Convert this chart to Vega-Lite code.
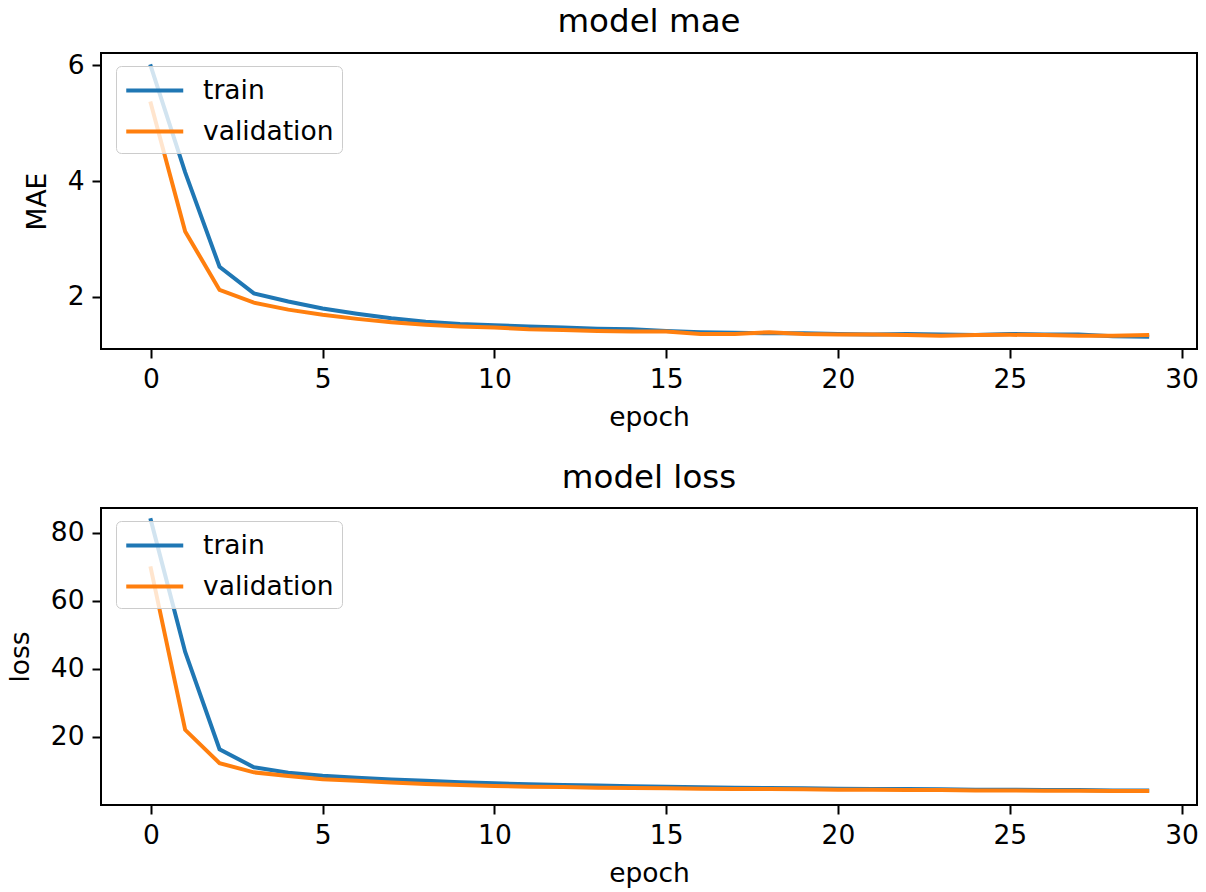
{
  "$schema": "https://vega.github.io/schema/vega-lite/v6.json",
  "autosize": {"type": "none"},
  "padding": {"left": 101, "top": 53, "right": 1105, "bottom": 839},
  "background": "white",
  "bounds": "flush",
  "spacing": 159,
  "datasets": {
    "mae": [
      {"epoch": 0, "series": "train", "value": 5.98},
      {"epoch": 1, "series": "train", "value": 4.15},
      {"epoch": 2, "series": "train", "value": 2.52},
      {"epoch": 3, "series": "train", "value": 2.06},
      {"epoch": 4, "series": "train", "value": 1.92},
      {"epoch": 5, "series": "train", "value": 1.8},
      {"epoch": 6, "series": "train", "value": 1.71},
      {"epoch": 7, "series": "train", "value": 1.63},
      {"epoch": 8, "series": "train", "value": 1.57},
      {"epoch": 9, "series": "train", "value": 1.53},
      {"epoch": 10, "series": "train", "value": 1.51},
      {"epoch": 11, "series": "train", "value": 1.49},
      {"epoch": 12, "series": "train", "value": 1.47},
      {"epoch": 13, "series": "train", "value": 1.45},
      {"epoch": 14, "series": "train", "value": 1.44},
      {"epoch": 15, "series": "train", "value": 1.41},
      {"epoch": 16, "series": "train", "value": 1.39},
      {"epoch": 17, "series": "train", "value": 1.38},
      {"epoch": 18, "series": "train", "value": 1.37},
      {"epoch": 19, "series": "train", "value": 1.37},
      {"epoch": 20, "series": "train", "value": 1.36},
      {"epoch": 21, "series": "train", "value": 1.35},
      {"epoch": 22, "series": "train", "value": 1.36},
      {"epoch": 23, "series": "train", "value": 1.35},
      {"epoch": 24, "series": "train", "value": 1.34},
      {"epoch": 25, "series": "train", "value": 1.36},
      {"epoch": 26, "series": "train", "value": 1.35},
      {"epoch": 27, "series": "train", "value": 1.35},
      {"epoch": 28, "series": "train", "value": 1.32},
      {"epoch": 29, "series": "train", "value": 1.31},
      {"epoch": 0, "series": "validation", "value": 5.34},
      {"epoch": 1, "series": "validation", "value": 3.13},
      {"epoch": 2, "series": "validation", "value": 2.12},
      {"epoch": 3, "series": "validation", "value": 1.9},
      {"epoch": 4, "series": "validation", "value": 1.78},
      {"epoch": 5, "series": "validation", "value": 1.69},
      {"epoch": 6, "series": "validation", "value": 1.62},
      {"epoch": 7, "series": "validation", "value": 1.56},
      {"epoch": 8, "series": "validation", "value": 1.52},
      {"epoch": 9, "series": "validation", "value": 1.49},
      {"epoch": 10, "series": "validation", "value": 1.47},
      {"epoch": 11, "series": "validation", "value": 1.44},
      {"epoch": 12, "series": "validation", "value": 1.43},
      {"epoch": 13, "series": "validation", "value": 1.41},
      {"epoch": 14, "series": "validation", "value": 1.4},
      {"epoch": 15, "series": "validation", "value": 1.4},
      {"epoch": 16, "series": "validation", "value": 1.36},
      {"epoch": 17, "series": "validation", "value": 1.36},
      {"epoch": 18, "series": "validation", "value": 1.39},
      {"epoch": 19, "series": "validation", "value": 1.36},
      {"epoch": 20, "series": "validation", "value": 1.35},
      {"epoch": 21, "series": "validation", "value": 1.35},
      {"epoch": 22, "series": "validation", "value": 1.34},
      {"epoch": 23, "series": "validation", "value": 1.33},
      {"epoch": 24, "series": "validation", "value": 1.34},
      {"epoch": 25, "series": "validation", "value": 1.345},
      {"epoch": 26, "series": "validation", "value": 1.34},
      {"epoch": 27, "series": "validation", "value": 1.33},
      {"epoch": 28, "series": "validation", "value": 1.33},
      {"epoch": 29, "series": "validation", "value": 1.34}
    ],
    "loss": [
      {"epoch": 0, "series": "train", "value": 83.8},
      {"epoch": 1, "series": "train", "value": 45.0},
      {"epoch": 2, "series": "train", "value": 16.4},
      {"epoch": 3, "series": "train", "value": 11.1},
      {"epoch": 4, "series": "train", "value": 9.5},
      {"epoch": 5, "series": "train", "value": 8.6},
      {"epoch": 6, "series": "train", "value": 8.0},
      {"epoch": 7, "series": "train", "value": 7.5},
      {"epoch": 8, "series": "train", "value": 7.1},
      {"epoch": 9, "series": "train", "value": 6.7},
      {"epoch": 10, "series": "train", "value": 6.4},
      {"epoch": 11, "series": "train", "value": 6.1},
      {"epoch": 12, "series": "train", "value": 5.9},
      {"epoch": 13, "series": "train", "value": 5.7},
      {"epoch": 14, "series": "train", "value": 5.5},
      {"epoch": 15, "series": "train", "value": 5.4},
      {"epoch": 16, "series": "train", "value": 5.2},
      {"epoch": 17, "series": "train", "value": 5.1},
      {"epoch": 18, "series": "train", "value": 5.0},
      {"epoch": 19, "series": "train", "value": 4.9},
      {"epoch": 20, "series": "train", "value": 4.8},
      {"epoch": 21, "series": "train", "value": 4.7},
      {"epoch": 22, "series": "train", "value": 4.7},
      {"epoch": 23, "series": "train", "value": 4.6},
      {"epoch": 24, "series": "train", "value": 4.5},
      {"epoch": 25, "series": "train", "value": 4.5},
      {"epoch": 26, "series": "train", "value": 4.4},
      {"epoch": 27, "series": "train", "value": 4.4},
      {"epoch": 28, "series": "train", "value": 4.3},
      {"epoch": 29, "series": "train", "value": 4.3},
      {"epoch": 0, "series": "validation", "value": 69.6},
      {"epoch": 1, "series": "validation", "value": 22.1},
      {"epoch": 2, "series": "validation", "value": 12.3},
      {"epoch": 3, "series": "validation", "value": 9.6},
      {"epoch": 4, "series": "validation", "value": 8.5},
      {"epoch": 5, "series": "validation", "value": 7.6},
      {"epoch": 6, "series": "validation", "value": 7.1},
      {"epoch": 7, "series": "validation", "value": 6.6},
      {"epoch": 8, "series": "validation", "value": 6.2},
      {"epoch": 9, "series": "validation", "value": 5.9},
      {"epoch": 10, "series": "validation", "value": 5.6},
      {"epoch": 11, "series": "validation", "value": 5.4},
      {"epoch": 12, "series": "validation", "value": 5.3},
      {"epoch": 13, "series": "validation", "value": 5.1},
      {"epoch": 14, "series": "validation", "value": 5.0},
      {"epoch": 15, "series": "validation", "value": 4.9},
      {"epoch": 16, "series": "validation", "value": 4.8},
      {"epoch": 17, "series": "validation", "value": 4.7},
      {"epoch": 18, "series": "validation", "value": 4.7},
      {"epoch": 19, "series": "validation", "value": 4.6},
      {"epoch": 20, "series": "validation", "value": 4.5},
      {"epoch": 21, "series": "validation", "value": 4.5},
      {"epoch": 22, "series": "validation", "value": 4.4},
      {"epoch": 23, "series": "validation", "value": 4.4},
      {"epoch": 24, "series": "validation", "value": 4.3},
      {"epoch": 25, "series": "validation", "value": 4.3},
      {"epoch": 26, "series": "validation", "value": 4.2},
      {"epoch": 27, "series": "validation", "value": 4.2},
      {"epoch": 28, "series": "validation", "value": 4.1},
      {"epoch": 29, "series": "validation", "value": 4.1}
    ]
  },
  "vconcat": [
    {
      "data": {"name": "mae"},
      "width": 1096,
      "height": 296,
      "title": {"text": "model mae"},
      "mark": {"type": "line", "strokeWidth": 4, "strokeCap": "square"},
      "encoding": {
        "x": {
          "field": "epoch", "type": "quantitative", "title": "epoch",
          "scale": {"domain": [-1.45, 30.45], "nice": false, "zero": false},
          "axis": {"values": [0, 5, 10, 15, 20, 25, 30]}
        },
        "y": {
          "field": "value", "type": "quantitative", "title": "MAE",
          "scale": {"domain": [1.1, 6.21], "nice": false, "zero": false},
          "axis": {"values": [2, 4, 6]}
        },
        "color": {
          "field": "series", "type": "nominal",
          "scale": {"domain": ["train", "validation"], "range": ["#1f77b4", "#ff7f0e"]},
          "legend": {"orient": "none", "legendX": 15, "legendY": 13}
        }
      }
    },
    {
      "data": {"name": "loss"},
      "width": 1096,
      "height": 297,
      "title": {"text": "model loss"},
      "mark": {"type": "line", "strokeWidth": 4, "strokeCap": "square"},
      "encoding": {
        "x": {
          "field": "epoch", "type": "quantitative", "title": "epoch",
          "scale": {"domain": [-1.45, 30.45], "nice": false, "zero": false},
          "axis": {"values": [0, 5, 10, 15, 20, 25, 30]}
        },
        "y": {
          "field": "value", "type": "quantitative", "title": "loss",
          "scale": {"domain": [0, 87.35], "nice": false, "zero": false},
          "axis": {"values": [20, 40, 60, 80]}
        },
        "color": {
          "field": "series", "type": "nominal",
          "scale": {"domain": ["train", "validation"], "range": ["#1f77b4", "#ff7f0e"]},
          "legend": {"orient": "none", "legendX": 15, "legendY": 13}
        }
      }
    }
  ],
  "resolve": {
    "scale": {"color": "independent", "x": "independent", "y": "independent"},
    "legend": {"color": "independent"}
  },
  "config": {
    "font": "DejaVu Sans",
    "view": {"stroke": "#000000", "strokeWidth": 2},
    "title": {"fontSize": 32.5, "fontWeight": "normal", "color": "#000000", "anchor": "middle", "baseline": "alphabetic", "offset": 14, "font": "DejaVu Sans"},
    "axis": {
      "grid": false, "domain": false,
      "tickColor": "#000000", "tickWidth": 2, "tickSize": 9,
      "labelFont": "DejaVu Sans", "labelFontSize": 26.5, "labelColor": "#000000", "labelPadding": 8,
      "titleFont": "DejaVu Sans", "titleFontSize": 26.5, "titleFontWeight": "normal", "titleColor": "#000000"
    },
    "axisX": {"titlePadding": 12},
    "axisY": {"titlePadding": 16},
    "legend": {
      "title": null,
      "symbolType": "M-1,0H3",
      "symbolSize": 812,
      "symbolStrokeWidth": 4,
      "labelOffset": 46,
      "labelFont": "DejaVu Sans",
      "labelFontSize": 26.5,
      "labelColor": "#000000",
      "rowPadding": 11,
      "padding": 8,
      "cornerRadius": 5,
      "strokeColor": "#cccccc",
      "fillColor": "rgba(255,255,255,0.8)"
    }
  }
}
